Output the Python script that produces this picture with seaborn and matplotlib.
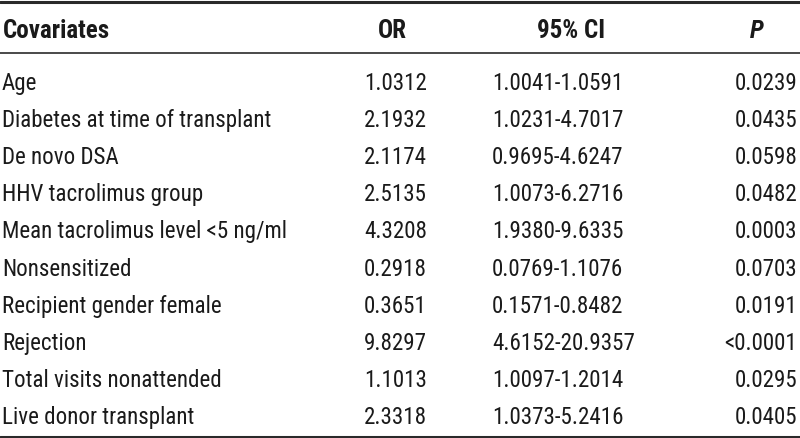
import matplotlib
matplotlib.use("Agg")
import matplotlib.pyplot as plt
import seaborn as sns
import pandas as pd

covariates = ["Age", "Diabetes at time of transplant", "De novo DSA",
              "HHV tacrolimus group", "Mean tacrolimus level <5 ng/ml",
              "Nonsensitized", "Recipient gender female", "Rejection",
              "Total visits nonattended", "Live donor transplant"]
odds_ratio = ["1.0312", "2.1932", "2.1174", "2.5135", "4.3208",
              "0.2918", "0.3651", "9.8297", "1.1013", "2.3318"]
ci_95 = ["1.0041-1.0591", "1.0231-4.7017", "0.9695-4.6247", "1.0073-6.2716",
         "1.9380-9.6335", "0.0769-1.1076", "0.1571-0.8482", "4.6152-20.9357",
         "1.0097-1.2014", "1.0373-5.2416"]
p_values = ["0.0239", "0.0435", "0.0598", "0.0482", "0.0003",
            "0.0703", "0.0191", "<0.0001", "0.0295", "0.0405"]
headers = ["Covariates", "OR", "95% CI", "P"]

df = pd.DataFrame({"Covariates": covariates, "OR": odds_ratio,
                   "95% CI": ci_95, "P": p_values})

sns.set_theme(style="white")
plt.rcParams["font.family"] = ["Roboto Condensed", "DejaVu Sans"]

fig = plt.figure(figsize=(8, 4.38), dpi=100)
ax = fig.add_axes([0, 0, 1, 1])
ax.set_xlim(0, 800)
ax.set_ylim(438, 0)
ax.axis("off")

txt = "#1a1a1a"
fs = 16.6
hfs = 18
header_y = 38
row0 = 90
step = 37.1

# header
ax.text(3, header_y, headers[0], ha="left", va="baseline", fontsize=hfs,
        fontweight="bold", color=txt)
ax.text(392, header_y, headers[1], ha="center", va="baseline", fontsize=hfs,
        fontweight="bold", color=txt)
ax.text(571, header_y, headers[2], ha="center", va="baseline", fontsize=hfs,
        fontweight="bold", color=txt)
ax.text(757, header_y, headers[3], ha="center", va="baseline", fontsize=hfs,
        fontweight="bold", fontstyle="italic", color=txt)

for i, row in df.iterrows():
    y = row0 + i * step
    ax.text(2, y, row["Covariates"], ha="left", va="baseline", fontsize=fs, color=txt)
    ax.text(427, y, row["OR"], ha="right", va="baseline", fontsize=fs, color=txt)
    ax.text(492, y, row["95% CI"], ha="left", va="baseline", fontsize=fs, color=txt)
    ax.text(797, y, row["P"], ha="right", va="baseline", fontsize=fs, color=txt)

ax.axhline(1.5, color="#2a2a2a", lw=2.2)
ax.axhline(52.5, color="#2a2a2a", lw=1.2)
ax.axhline(436.5, color="#2a2a2a", lw=2.2)

fig.savefig("out.png", dpi=100)
